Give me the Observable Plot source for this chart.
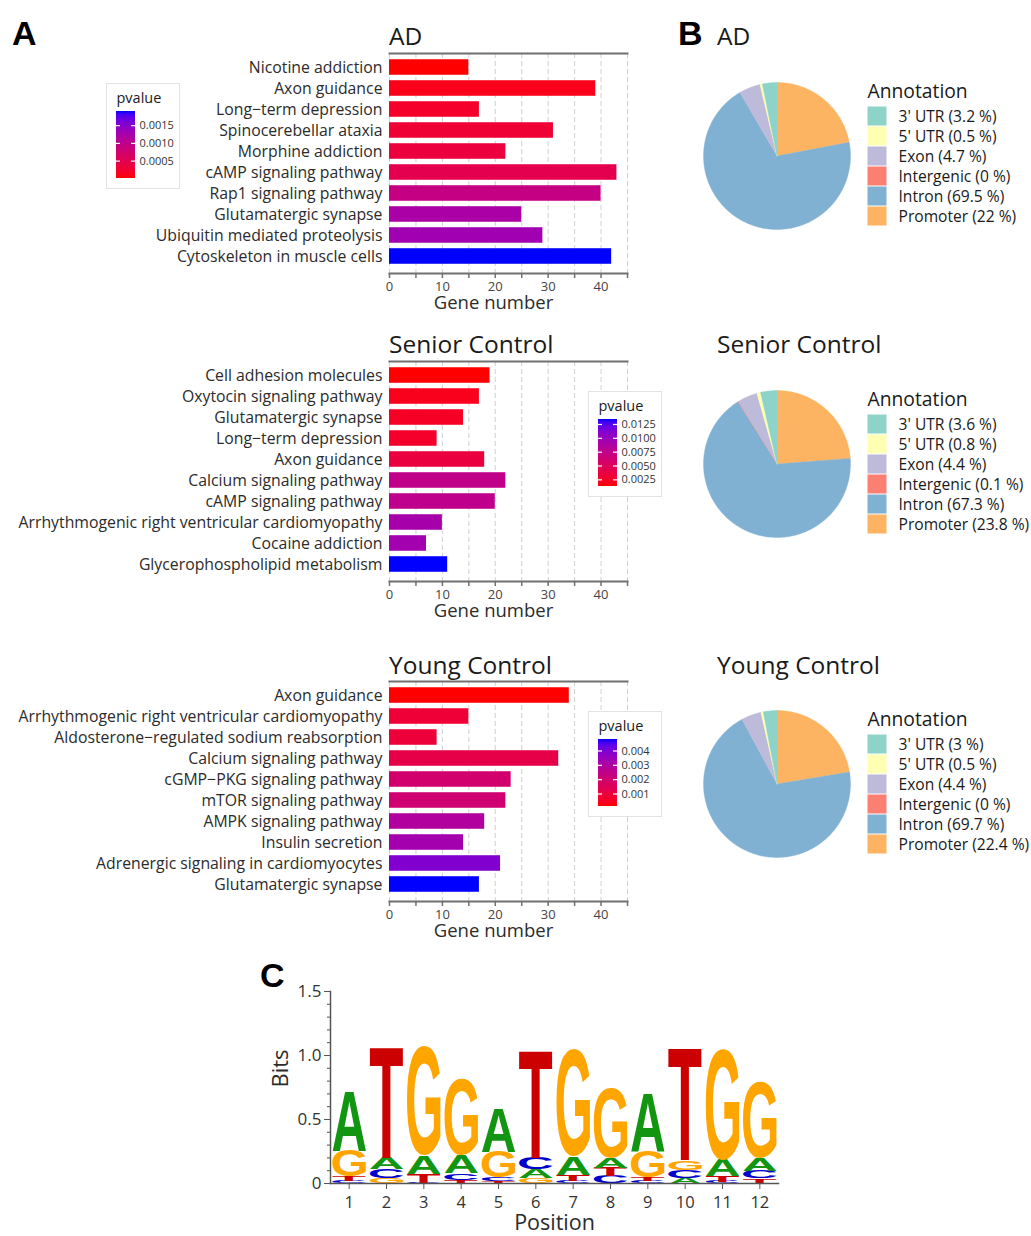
<!DOCTYPE html>
<html><head><meta charset="utf-8">
<script src="https://cdn.jsdelivr.net/npm/d3@7"></script>
<script src="https://cdn.jsdelivr.net/npm/@observablehq/plot@0.6"></script>
<style>
body{margin:0;background:#fff;}
#fig{position:relative;width:1031px;height:1236px;font-family:"Open Sans",sans-serif;color:#1a1a1a;overflow:hidden;background:#fff;}
.lbl{position:absolute;white-space:nowrap;line-height:1;}
#fig svg{position:absolute;overflow:visible;}
</style></head><body><div id="fig"></div>
<script>
// ---------------- DATA ----------------
const geneTicks = [0,5,10,15,20,25,30,35,40,45];

const adPathways = ["Nicotine addiction","Axon guidance","Long\u2212term depression","Spinocerebellar ataxia","Morphine addiction","cAMP signaling pathway","Rap1 signaling pathway","Glutamatergic synapse","Ubiquitin mediated proteolysis","Cytoskeleton in muscle cells"];
const adGenes = [15,39,17,31,22,43,40,25,29,42];
const adPvalues = [0.00001,0.0001,0.0002,0.00028,0.00034,0.00047,0.0009,0.0012,0.0013,0.0019];
const adLegendTicks = [0.0005,0.0010,0.0015];

const seniorPathways = ["Cell adhesion molecules","Oxytocin signaling pathway","Glutamatergic synapse","Long\u2212term depression","Axon guidance","Calcium signaling pathway","cAMP signaling pathway","Arrhythmogenic right ventricular cardiomyopathy","Cocaine addiction","Glycerophospholipid metabolism"];
const seniorGenes = [19,17,14,9,18,22,20,10,7,11];
const seniorPvalues = [0.0013,0.0020,0.0023,0.0025,0.0035,0.0074,0.0076,0.0092,0.0094,0.0134];
const seniorLegendTicks = [0.0025,0.0050,0.0075,0.0100,0.0125];

const youngPathways = ["Axon guidance","Arrhythmogenic right ventricular cardiomyopathy","Aldosterone\u2212regulated sodium reabsorption","Calcium signaling pathway","cGMP\u2212PKG signaling pathway","mTOR signaling pathway","AMPK signaling pathway","Insulin secretion","Adrenergic signaling in cardiomyocytes","Glutamatergic synapse"];
const youngGenes = [34,15,9,32,23,22,18,14,21,17];
const youngPvalues = [0.00013,0.00083,0.00088,0.00116,0.0019,0.0020,0.0029,0.0032,0.0039,0.0048];
const youngLegendTicks = [0.001,0.002,0.003,0.004];

const annotations = ["3' UTR","5' UTR","Exon","Intergenic","Intron","Promoter"];
const annotationColors = ["#8dd3c7","#ffffb3","#bebada","#fb8072","#80b1d3","#fdb462"];
const adPct = [3.2,0.5,4.7,0,69.5,22];
const seniorPct = [3.6,0.8,4.4,0.1,67.3,23.8];
const youngPct = [3,0.5,4.4,0,69.7,22.4];

const positions = [1,2,3,4,5,6,7,8,9,10,11,12];
const bitsA = [0.47,0.09,0.14,0.14,0.34,0.07,0.14,0.075,0.46,0.045,0.13,0.10];
const bitsC = [0.02,0.07,0.005,0.05,0.025,0.09,0.02,0.06,0.02,0.06,0.015,0.06];
const bitsG = [0.20,0.04,0.85,0.60,0.20,0.04,0.83,0.55,0.20,0.075,0.86,0.60];
const bitsT = [0.035,0.87,0.07,0.03,0.02,0.84,0.05,0.065,0.025,0.88,0.045,0.04];
const bases = ["A","C","G","T"];
const baseColors = ["#129612","#0000cc","#ffa500","#cc0000"];
const bitsMajorTicks = [0,0.5,1,1.5];
const bitsMinorTicks = [0.1,0.2,0.3,0.4,0.6,0.7,0.8,0.9,1.1,1.2,1.3,1.4];

// ---------------- HELPERS ----------------
const fig = document.getElementById("fig");
const svgNS = "http://www.w3.org/2000/svg";
function place(el, left, top){ el.style.left = left+"px"; el.style.top = top+"px"; fig.appendChild(el); return el; }
function label(text, left, cy, size, opts={}){
  const d = document.createElement("div");
  d.className = "lbl"; d.textContent = text;
  d.style.fontSize = size+"px";
  d.style.fontWeight = opts.weight || "normal";
  if (opts.family) d.style.fontFamily = opts.family;
  d.style.color = opts.color || "#1a1a1a";
  const k = opts.family ? 0.5 : 0.48;
  d.style.left = left+"px"; d.style.top = (cy - size*k)+"px";
  fig.appendChild(d);
}
const pColor = (pvals) => ({type:"linear", domain:d3.extent(pvals), range:["red","blue"], interpolate:d3.interpolateLab});

function barChart(cats, genes, pvals, top){
  const rows = cats.map((c,i)=>({cat:c,row:i,genes:genes[i],p:pvals[i]}));
  const chart = Plot.plot({
    width:640, height:271, marginLeft:389, marginRight:13, marginTop:9, marginBottom:42,
    style:{fontFamily:"Open Sans", background:"transparent", overflow:"visible"},
    x:{domain:[0,45]},
    y:{domain:[-0.667,9.81], reverse:true},
    color:pColor(pvals),
    marks:[
      Plot.ruleX(geneTicks,{stroke:"#d0d0d0", strokeDasharray:"5,3"}),
      Plot.rect(rows,{x1:0, x2:"genes", y1:d=>d.row-0.37, y2:d=>d.row+0.37, fill:"p"}),
      Plot.frame({anchor:"top", stroke:"#707070", strokeWidth:2}),
      Plot.frame({anchor:"bottom", stroke:"#707070", strokeWidth:2}),
      Plot.axisY({ticks:rows.map(d=>d.row), tickFormat:i=>cats[i], tickSize:0, tickPadding:7, fontSize:15.8, fill:"#2b2b2b", label:null}),
      Plot.axisX({ticks:geneTicks, tickFormat:d=>d%10===0?String(d):"", tickSize:5, tickPadding:3, fontSize:13, stroke:"#707070", strokeWidth:1.5, fill:"#444", label:null}),
      Plot.text(["Gene number"],{frameAnchor:"bottom", lineAnchor:"middle", dy:30, dx:-15, fontSize:18.5, fill:"#2b2b2b"})
    ]
  });
  place(chart, 0, top);
}

function pLegend(pvals, ticks, fmt, left, top, id){
  const [pmin,pmax] = d3.extent(pvals);
  const sc = Plot.scale({color:pColor(pvals)});
  const leg = Plot.plot({
    width:72, height:104, marginLeft:9, marginRight:44, marginTop:27, marginBottom:10,
    style:{fontFamily:"Open Sans", background:"#fff", overflow:"visible"},
    y:{domain:[pmin,pmax], axis:null},
    marks:[
      Plot.barY([{lo:pmin,hi:pmax}],{y1:"lo", y2:"hi", fill:`url(#${id})`}),
      Plot.tickY(ticks,{y:d=>d, stroke:"white", strokeWidth:1.2, insetRight:15}),
      Plot.tickY(ticks,{y:d=>d, stroke:"white", strokeWidth:1.2, insetLeft:15}),
      Plot.text(ticks,{y:d=>d, text:d=>d3.format(fmt)(d), frameAnchor:"right", dx:4, textAnchor:"start", fontSize:11, fill:"#333"}),
      Plot.text(["pvalue"],{frameAnchor:"top-left", lineAnchor:"middle", dy:-13, textAnchor:"start", fontSize:14.5, fill:"#1a1a1a"})
    ]
  });
  const defs = document.createElementNS(svgNS,"defs");
  const grad = document.createElementNS(svgNS,"linearGradient");
  grad.setAttribute("id",id); grad.setAttribute("x1","0"); grad.setAttribute("y1","1"); grad.setAttribute("x2","0"); grad.setAttribute("y2","0");
  for (let k=0;k<=20;k++){
    const t=k/20, s=document.createElementNS(svgNS,"stop");
    s.setAttribute("offset",t); s.setAttribute("stop-color", sc.apply(pmin+t*(pmax-pmin)));
    grad.appendChild(s);
  }
  defs.appendChild(grad); leg.insertBefore(defs, leg.firstChild);
  leg.style.border = "1px solid #e3e3e3";
  place(leg, left, top);
}

function pie(pct, left, top, size){
  const total = d3.sum(pct);
  const feats = []; let a0 = 0;
  for (let i=annotations.length-1;i>=0;i--){
    const a1 = a0 + pct[i]/total*2*Math.PI;
    if (pct[i]>0){
      const coords=[[0,0]];
      const n = Math.max(2, Math.ceil((a1-a0)/(Math.PI/180)));
      for (let k=0;k<=n;k++){ const a=a0+(a1-a0)*k/n; coords.push([Math.sin(a),-Math.cos(a)]); }
      coords.push([0,0]);
      feats.push({type:"Feature",properties:{name:annotations[i]},geometry:{type:"Polygon",coordinates:[coords]}});
    }
    a0 = a1;
  }
  const ring=[]; for(let k=0;k<=360;k++){const a=k*Math.PI/180; ring.push([Math.sin(a),-Math.cos(a)]);}
  const outline={type:"Feature",properties:{},geometry:{type:"Polygon",coordinates:[ring]}};
  const chart = Plot.plot({
    width:size, height:size, margin:0,
    style:{background:"transparent", overflow:"visible"},
    projection:{type:"identity", domain:outline},
    color:{type:"ordinal", domain:annotations, range:annotationColors},
    marks:[Plot.geo(feats,{fill:d=>d.properties.name, stroke:d=>d.properties.name, strokeWidth:0.4})]
  });
  place(chart, left, top);
}

function pieLegend(pct, left, top){
  const leg = Plot.plot({
    width:165, height:146, marginLeft:0, marginRight:145, marginTop:25, marginBottom:1,
    style:{fontFamily:"Open Sans", background:"transparent", overflow:"visible"},
    y:{domain:annotations, padding:0, axis:null},
    color:{type:"ordinal", domain:annotations, range:annotationColors},
    marks:[
      Plot.cell(annotations,{y:d=>d, fill:d=>d, inset:0.5}),
      Plot.text(annotations,{y:d=>d, text:(d,i)=>`${d} (${pct[i]} %)`, frameAnchor:"right", dx:11, textAnchor:"start", fontSize:15.6, fill:"#1a1a1a"}),
      Plot.text(["Annotation"],{frameAnchor:"top-left", lineAnchor:"middle", dy:-15, textAnchor:"start", fontSize:19.3, fill:"#1a1a1a"})
    ]
  });
  place(leg, left, top);
}

// ---------------- PANEL A ----------------
label("A", 12, 33, 34, {weight:"bold", family:"Liberation Sans", color:"#000"});
label("AD", 389, 36, 24.5);
label("Senior Control", 389, 344, 24.5);
label("Young Control", 389, 665, 24.5);
barChart(adPathways, adGenes, adPvalues, 44);
barChart(seniorPathways, seniorGenes, seniorPvalues, 352);
barChart(youngPathways, youngGenes, youngPvalues, 672);
pLegend(adPvalues, adLegendTicks, ".4f", 106, 83, "gAD");
pLegend(seniorPvalues, seniorLegendTicks, ".4f", 588, 391, "gSC");
pLegend(youngPvalues, youngLegendTicks, ".3f", 588, 711, "gYC");

// ---------------- PANEL B ----------------
label("B", 678, 33, 34, {weight:"bold", family:"Liberation Sans", color:"#000"});
label("AD", 717, 36, 24.5);
label("Senior Control", 717, 344, 24.5);
label("Young Control", 717, 665, 24.5);
pie(adPct, 703, 82, 147);
pie(seniorPct, 703, 390, 147);
pie(youngPct, 703, 710, 147);
pieLegend(adPct, 867, 81);
pieLegend(seniorPct, 867, 389);
pieLegend(youngPct, 867, 709);

// ---------------- PANEL C ----------------
label("C", 260, 975, 34, {weight:"bold", family:"Liberation Sans", color:"#000"});
const letters = [];
positions.forEach((pos,i)=>{
  const hs = [bitsA[i],bitsC[i],bitsG[i],bitsT[i]].map((h,j)=>({base:bases[j],h})).filter(d=>d.h>0).sort((a,b)=>a.h-b.h);
  let y = 0;
  hs.forEach(d=>{ letters.push({pos, base:d.base, y0:y, y1:y+d.h}); y += d.h; });
});
const letterWidth = 0.9;
const logo = Plot.plot({
  width:540, height:261, marginLeft:75, marginRight:17, marginTop:16, marginBottom:53,
  style:{fontFamily:"Open Sans", background:"transparent", overflow:"visible"},
  x:{domain:[0.5,12.5]},
  y:{domain:[0,1.5]},
  color:{type:"ordinal", domain:bases, range:baseColors},
  marks:[
    Plot.text(letters,{x:"pos", y:"y0", text:"base", fill:"base", fontSize:100, fontFamily:"Liberation Sans", fontWeight:"bold"}),
    Plot.frame({anchor:"left", stroke:"#555", strokeWidth:1.5}),
    Plot.frame({anchor:"bottom", stroke:"#555", strokeWidth:1.5}),
    Plot.axisY({ticks:bitsMajorTicks, tickFormat:d=>d===0?"0":d.toFixed(1), tickSize:6, tickPadding:3, fontSize:17, stroke:"#555", fill:"#333", label:null}),
    Plot.axisY({ticks:bitsMinorTicks, tickFormat:()=>"", tickSize:3, stroke:"#555", label:null}),
    Plot.axisX({ticks:positions, tickSize:6, tickPadding:7, fontSize:16.5, stroke:"#555", fill:"#333", label:null}),
    Plot.text(["Position"],{frameAnchor:"bottom", lineAnchor:"middle", dy:40, fontSize:21.5, fill:"#2b2b2b"}),
    Plot.text(["Bits"],{frameAnchor:"left", lineAnchor:"middle", rotate:-90, dx:-50, fontSize:22, fill:"#2b2b2b"})
  ]
});
(function stretchLetters(){
  const xs = logo.scale("x"), ys = logo.scale("y");
  const groups = [...logo.querySelectorAll('g[aria-label="text"]')];
  const g = groups.find(g=>g.querySelectorAll("text").length===letters.length);
  if (!g) return;
  const ctx = document.createElement("canvas").getContext("2d");
  ctx.font = 'bold 100px "Liberation Sans"';
  g.querySelectorAll("text").forEach((t,i)=>{
    const d = letters[i];
    const m = ctx.measureText(d.base);
    const L=m.actualBoundingBoxLeft, R=m.actualBoundingBoxRight, A=m.actualBoundingBoxAscent, D=m.actualBoundingBoxDescent;
    const x0=xs.apply(d.pos-letterWidth/2), x1=xs.apply(d.pos+letterWidth/2);
    const yT=ys.apply(d.y1), yB=ys.apply(d.y0);
    const sx=(x1-x0)/(L+R), sy=(yB-yT)/(A+D);
    ["x","y","dx","dy"].forEach(a=>t.removeAttribute(a));
    t.setAttribute("text-anchor","start");
    t.setAttribute("transform",`translate(${x0},${yT}) scale(${sx},${sy}) translate(${L},${A})`);
  });
})();
place(logo, 255, 975);
</script>
</body></html>
